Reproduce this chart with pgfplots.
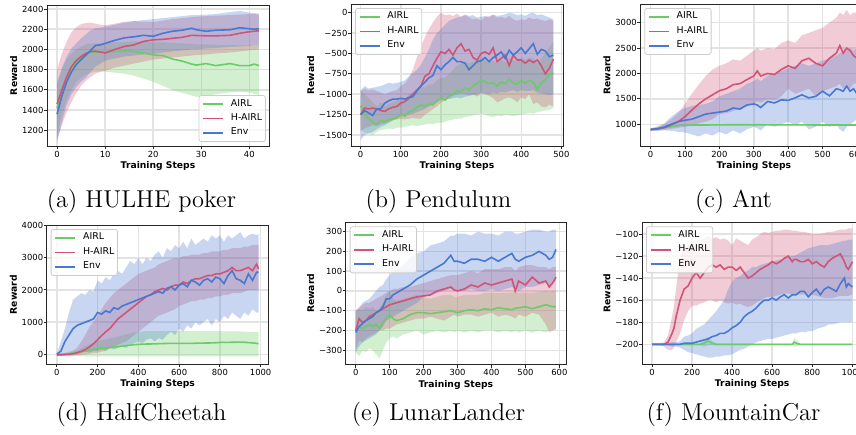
\documentclass[border=0pt]{standalone}
\usepackage{fontspec}
\usepackage{pgfplots}
\usepackage{pgfplotstable}
\pgfplotsset{compat=1.18}
\usepgfplotslibrary{fillbetween}
\newfontfamily\dejavu{DejaVu Sans}
\definecolor{cG}{RGB}{106,204,100}
\definecolor{cR}{RGB}{208,84,118}
\definecolor{cB}{RGB}{72,120,208}
\newcommand\tickfont{\dejavu\fontsize{4.2}{5}\selectfont}
\newcommand\labfont{\dejavu\bfseries\fontsize{4.6}{5.5}\selectfont}
\newcommand\legfont{\dejavu\fontsize{4.7}{5.6}\selectfont}
\newcommand\capfont{\fontsize{12.2}{14}\selectfont}

% x | AIRL mean lo hi | H-AIRL mean lo hi | Env mean lo hi
\pgfplotstableread{
x gm gl gh rm rl rh bm bl bh
0 1420 1150 1690 1460 1110 1800 1360 1080 1650
1 1580 1350 1800 1600 1250 1960 1540 1280 1820
2 1710 1500 1900 1730 1380 2080 1680 1450 1930
3 1810 1600 1960 1830 1480 2170 1780 1560 2010
4 1880 1680 2000 1890 1570 2220 1850 1630 2060
5 1920 1720 2030 1930 1640 2250 1900 1680 2110
6 1955 1750 2050 1960 1690 2262 1945 1720 2150
7 1970 1770 2060 1980 1730 2265 1990 1780 2190
8 1975 1780 2060 1982 1760 2255 2040 1830 2210
9 1975 1780 2060 1975 1780 2245 2045 1860 2215
10 1978 1780 2065 1965 1790 2240 2060 1890 2225
12 1980 1770 2070 2000 1820 2255 2090 1910 2245
14 1985 1760 2075 2030 1840 2275 2115 1930 2265
16 1980 1740 2080 2045 1860 2280 2125 1940 2280
18 1965 1710 2075 2080 1880 2275 2140 1950 2290
20 1945 1680 2070 2095 1900 2270 2130 1955 2300
22 1940 1640 2070 2100 1910 2285 2160 1970 2310
24 1905 1600 2065 2110 1920 2300 2180 1980 2320
26 1885 1570 2060 2120 1930 2310 2190 1990 2330
28 1855 1545 2055 2140 1940 2320 2210 2000 2340
29 1845 1530 2050 2138 1945 2325 2195 2000 2340
31 1860 1545 2050 2135 1950 2330 2180 2010 2345
33 1840 1555 2045 2135 1960 2335 2190 2015 2350
36 1860 1575 2045 2140 1970 2340 2195 2025 2370
38 1840 1580 2040 2160 1980 2345 2215 2030 2380
40 1840 1575 2040 2175 1990 2350 2205 2035 2365
41 1855 1560 2040 2180 1995 2350 2200 2040 2360
42 1840 1550 2040 2185 2000 2345 2205 2040 2355
}\tabA

\pgfplotstableread{
x gm gl gh rm rl rh bm bl bh
0 -1140 -1430 -950 -1250 -1450 -960 -1250 -1560 -950
10 -1250 -1470 -1000 -1170 -1420 -930 -1200 -1500 -900
20 -1300 -1480 -1050 -1180 -1400 -950 -1230 -1480 -930
30 -1340 -1500 -1100 -1170 -1380 -940 -1260 -1460 -920
40 -1370 -1460 -1150 -1180 -1390 -960 -1180 -1430 -910
50 -1320 -1440 -1100 -1200 -1370 -980 -1180 -1400 -900
60 -1340 -1430 -1150 -1210 -1360 -1000 -1110 -1380 -880
70 -1310 -1420 -1120 -1180 -1340 -980 -1080 -1350 -860
80 -1300 -1430 -1100 -1160 -1320 -960 -1060 -1320 -870
90 -1290 -1410 -1080 -1150 -1310 -950 -1060 -1300 -860
100 -1250 -1410 -1050 -1110 -1300 -900 -1050 -1260 -850
110 -1270 -1400 -1080 -1090 -1310 -870 -1060 -1270 -830
120 -1220 -1390 -1000 -1050 -1300 -800 -1040 -1250 -780
130 -1200 -1380 -980 -1000 -1290 -700 -1030 -1240 -740
140 -1160 -1390 -950 -950 -1300 -550 -960 -1220 -700
150 -1130 -1380 -900 -900 -1300 -420 -900 -1200 -640
160 -1150 -1370 -920 -780 -1250 -300 -850 -1180 -550
170 -1120 -1360 -880 -750 -1220 -200 -800 -1150 -450
180 -1130 -1370 -880 -650 -1180 -120 -770 -1120 -330
190 -1080 -1350 -830 -560 -1150 -50 -650 -1100 -250
200 -1050 -1350 -800 -480 -1100 0 -700 -1060 -200
210 -1070 -1340 -800 -500 -1080 -30 -640 -1050 -150
220 -1020 -1320 -750 -450 -1050 -20 -600 -1060 -100
230 -1000 -1310 -700 -520 -1020 -40 -550 -1050 -80
240 -960 -1300 -650 -430 -1000 -10 -600 -1040 -60
250 -970 -1300 -620 -380 -990 -50 -600 -1050 -50
260 -920 -1280 -600 -470 -1000 -30 -620 -1030 -20
270 -950 -1270 -620 -450 -1010 -60 -700 -1020 -40
280 -900 -1260 -600 -550 -1000 -80 -650 -1010 -30
290 -870 -1250 -580 -580 -1030 -70 -600 -1000 -60
300 -820 -1240 -560 -500 -990 -100 -590 -980 -50
310 -850 -1250 -580 -480 -1000 -50 -550 -990 -40
320 -870 -1270 -600 -510 -1020 -40 -600 -1000 -60
330 -860 -1280 -590 -430 -1050 -30 -550 -980 -20
340 -900 -1260 -620 -600 -1100 -60 -520 -990 -40
350 -850 -1270 -580 -560 -1080 -50 -480 -970 -30
360 -870 -1250 -600 -520 -1050 -70 -560 -980 -20
370 -820 -1260 -560 -650 -1040 -40 -460 -960 0
380 -860 -1270 -580 -520 -1060 -80 -520 -950 -10
390 -880 -1260 -600 -580 -1100 -100 -480 -970 -30
400 -830 -1250 -550 -580 -1040 -80 -430 -950 -20
410 -860 -1240 -580 -620 -1060 -90 -500 -960 -40
420 -830 -1230 -550 -580 -1000 -60 -440 -960 -10
430 -850 -1240 -560 -610 -1120 -80 -380 -950 0
440 -940 -1220 -620 -580 -1100 -70 -510 -980 -30
450 -860 -1210 -560 -650 -1150 -90 -450 -990 -20
460 -820 -1200 -500 -750 -1160 -100 -470 -1000 -40
470 -760 -1190 -420 -680 -1130 -80 -540 -1010 -60
480 -740 -1170 -350 -570 -1150 -100 -520 -1000 -80
}\tabB

\pgfplotstableread{
x gm gl gh rm rl rh bm bl bh
0 900 890 910 890 870 910 900 880 920
20 910 900 920 905 880 940 915 870 960
40 930 918 942 935 890 1000 945 880 1020
60 955 942 968 990 910 1100 1000 870 1150
80 975 962 988 1050 930 1220 1050 850 1250
100 982 970 994 1150 950 1400 1080 840 1320
120 985 972 998 1280 980 1600 1100 800 1360
140 986 973 999 1400 1020 1780 1150 760 1380
160 986 973 999 1500 1050 1950 1200 820 1400
180 987 974 1000 1580 1100 2080 1220 780 1450
200 988 975 1001 1660 1200 2150 1240 850 1550
220 990 977 1003 1700 1220 2200 1260 800 1600
240 990 977 1003 1780 1260 2280 1320 880 1650
260 990 977 1003 1800 1300 2250 1300 820 1700
280 990 977 1003 1880 1350 2350 1380 900 1800
300 989 976 1002 1950 1400 2450 1400 950 1850
310 990 977 1003 2050 1450 2500 1380 920 1900
320 990 977 1003 1950 1420 2450 1330 880 1850
340 989 976 1002 2000 1500 2500 1450 1000 1950
360 989 976 1002 1980 1480 2480 1420 950 2000
380 988 975 1001 2080 1550 2600 1480 1000 2050
400 988 975 1001 2150 1700 2650 1470 1050 2100
420 987 974 1000 2100 1600 2600 1520 980 2150
440 987 974 1000 2250 1650 2750 1580 1050 2200
460 987 974 1000 2300 1700 2800 1520 900 2150
480 986 973 999 2200 1550 2850 1550 950 2200
500 986 973 999 2150 1650 2900 1650 1050 2250
520 986 973 999 2300 1700 3000 1560 950 2300
540 986 973 999 2400 1750 3100 1700 1000 2350
550 986 973 999 2550 1800 3200 1680 900 2400
560 986 973 999 2400 1700 3150 1650 850 2450
570 986 973 999 2500 1750 3250 1750 950 2450
580 986 973 999 2450 1700 3150 1650 1000 2500
590 986 973 999 2350 1800 3200 1700 1050 2450
600 986 973 999 2300 1800 3200 1600 1100 2500
}\tabC

\pgfplotstableread{
x gm gl gh rm rl rh bm bl bh
0 0 -50 0 -20 -50 10 0 -50 0
20 5 -50 10 -15 -50 20 100 -40 400
40 10 -50 30 -5 -50 40 400 -30 800
60 20 -50 50 0 -45 80 600 -20 1300
80 35 -55 80 20 -40 120 800 0 1700
100 60 -55 110 50 -30 200 900 0 1800
120 80 -55 180 90 -20 400 950 50 1900
140 100 -60 250 150 0 600 1000 100 1850
160 130 -60 300 230 20 850 1050 50 2000
180 150 -60 350 330 40 1000 1100 100 1950
200 170 -60 400 450 50 1200 1300 100 2300
220 190 -60 430 580 80 1400 1250 150 2200
240 200 -60 470 700 120 1600 1350 100 2400
260 210 -60 500 800 180 1750 1300 200 2300
280 230 -60 520 950 230 1900 1450 150 2500
300 240 -60 550 1100 300 2000 1400 200 2600
320 255 -60 580 1200 350 2100 1500 250 2500
340 270 -60 620 1300 400 2200 1550 200 2700
360 285 -60 650 1400 500 2300 1600 300 2900
380 300 -60 680 1500 600 2400 1650 350 2800
400 310 -60 700 1600 700 2500 1700 400 3000
420 315 -60 710 1700 800 2550 1750 350 2800
440 320 -60 720 1800 900 2600 1800 450 3000
460 322 -60 720 1850 1000 2650 1850 500 2900
480 325 -60 720 1950 1100 2700 1900 400 3100
500 330 -60 720 2000 1200 2800 1950 500 3200
520 335 -60 720 2050 1250 2850 1900 450 3000
540 338 -60 720 2000 1300 2900 2050 600 3300
560 340 -60 720 2100 1350 2950 2100 700 3200
580 342 -60 720 2150 1400 3000 2000 600 3400
600 340 -60 720 2150 1500 3000 2150 800 3300
620 340 -60 720 2250 1550 3050 2200 700 3500
640 338 -60 720 2200 1600 3050 2100 900 3300
660 340 -60 720 2300 1650 3100 2300 800 3600
680 345 -60 720 2350 1650 3100 2250 1000 3400
700 350 -60 720 2350 1700 3100 2150 900 3500
720 350 -60 720 2400 1700 3150 2300 1000 3600
740 352 -60 720 2450 1750 3150 2350 1100 3500
760 355 -60 720 2450 1750 3200 2250 900 3700
780 360 -60 720 2500 1800 3200 2400 1100 3600
800 370 -60 720 2500 1800 3200 2350 1000 3700
820 370 -60 715 2550 1850 3250 2200 1200 3500
840 372 -60 715 2600 1850 3250 2450 1100 3700
860 375 -60 710 2700 1900 3300 2600 1300 3600
880 378 -60 710 2600 1900 3300 2350 1200 3700
900 380 -60 710 2600 1900 3300 2300 1100 3800
920 375 -60 705 2650 1950 3350 2200 1300 3600
940 365 -60 700 2700 2000 3350 2500 1200 3700
960 355 -60 700 2600 2000 3400 2300 1400 3750
980 340 -60 700 2800 2000 3400 2550 1300 3700
990 330 -60 700 2650 2000 3400 2550 1300 3750
}\tabD

\pgfplotstableread{
x gm gl gh rm rl rh bm bl bh
0 -200 -310 -100 -200 -300 -100 -210 -310 -100
10 -180 -330 -90 -140 -250 -80 -180 -280 -90
20 -190 -300 -100 -160 -260 -70 -165 -260 -60
30 -180 -310 -80 -150 -240 -60 -150 -250 -50
40 -170 -290 -90 -130 -230 -60 -140 -240 -40
50 -180 -300 -80 -120 -220 -50 -130 -230 -20
60 -170 -320 -100 -110 -210 -40 -110 -220 0
70 -190 -340 -90 -100 -200 -30 -100 -200 20
80 -160 -300 -60 -90 -200 -20 -80 -180 30
90 -140 -260 -20 -80 -190 -10 -40 -150 60
100 -120 -240 0 -70 -190 0 -40 -140 80
110 -140 -230 -40 -65 -180 10 -20 -130 100
120 -150 -240 -50 -60 -170 10 -10 -120 110
140 -140 -220 -40 -50 -160 20 10 -100 130
160 -120 -210 -30 -40 -150 20 30 -80 170
180 -110 -200 -20 -30 -140 30 60 -60 190
200 -110 -220 -30 -25 -140 40 80 -30 200
220 -115 -210 -40 -20 -130 50 100 -20 230
240 -110 -200 -30 0 -140 60 120 -10 240
260 -105 -210 -20 10 -150 70 140 0 250
280 -100 -200 -20 20 -130 80 180 10 280
290 -105 -210 -30 5 -120 80 150 0 280
300 -110 -200 -30 0 -130 80 150 0 290
320 -100 -210 -20 10 -120 90 140 0 290
340 -95 -200 -20 30 -120 100 160 10 280
360 -100 -210 -20 20 -130 90 160 0 300
380 -90 -200 -10 40 -120 110 150 0 290
400 -95 -200 -10 30 -110 110 170 10 290
420 -85 -210 -10 40 -130 110 150 0 280
440 -90 -200 -10 50 -120 120 170 10 300
460 -95 -210 -10 60 -130 120 190 20 300
470 -88 -200 -5 0 -140 100 160 10 290
480 -85 -210 -10 50 -120 120 150 0 290
500 -80 -200 -10 30 -130 130 170 20 300
520 -90 -210 -10 70 -110 130 180 20 310
540 -80 -200 -5 40 -120 120 200 30 310
560 -70 -210 0 50 -170 120 180 40 300
570 -75 -200 -5 20 -210 110 160 30 300
580 -80 -200 0 40 -200 120 170 40 310
590 -80 -200 0 70 -190 120 210 50 310
}\tabE

\pgfplotstableread{
x gm gl gh rm rl rh bm bl bh
0 -200 -201 -199 -200 -201 -199 -200 -201 -199
20 -200 -201 -199 -200 -201 -199 -200 -201 -199
40 -200 -201 -199 -200 -201 -199 -200 -201 -199
60 -200 -201 -199 -200 -202 -198 -200 -201 -199
80 -200 -201 -199 -198 -205 -192 -200 -201 -199
100 -200 -201 -199 -190 -205 -175 -200 -202 -198
110 -200 -201 -199 -185 -203 -165 -200 -202 -198
120 -200 -201 -199 -175 -198 -150 -200 -202 -198
140 -200 -201 -199 -160 -190 -120 -200 -203 -197
160 -200 -201 -199 -150 -178 -112 -199 -205 -193
180 -200 -201 -199 -147 -170 -110 -199 -207 -192
200 -200 -201 -199 -140 -165 -108 -199 -208 -190
220 -200 -201 -199 -135 -165 -105 -198 -209 -186
240 -200 -201 -199 -140 -163 -106 -197 -210 -184
260 -199 -202 -196 -135 -162 -104 -196 -211 -182
280 -197 -201 -193 -130 -160 -102 -195 -212 -178
300 -199 -201 -197 -128 -160 -104 -193 -212 -174
320 -200 -201 -199 -130 -162 -103 -192 -211 -170
340 -200 -201 -199 -128 -160 -105 -190 -211 -165
360 -200 -201 -199 -132 -162 -104 -190 -210 -160
380 -200 -201 -199 -130 -163 -106 -188 -210 -150
400 -200 -201 -199 -130 -162 -110 -185 -209 -143
420 -200 -201 -199 -133 -164 -104 -183 -207 -140
440 -200 -201 -199 -130 -163 -106 -180 -205 -138
460 -200 -201 -199 -135 -165 -108 -175 -204 -135
480 -200 -201 -199 -140 -166 -110 -172 -202 -133
500 -200 -201 -199 -138 -165 -105 -170 -200 -130
520 -200 -201 -199 -135 -162 -103 -167 -198 -130
540 -200 -201 -199 -132 -160 -100 -163 -197 -128
560 -200 -201 -199 -130 -158 -98 -160 -196 -127
580 -200 -201 -199 -128 -157 -99 -160 -195 -126
600 -200 -201 -199 -125 -157 -98 -158 -195 -125
620 -200 -201 -199 -127 -156 -97 -160 -194 -124
640 -200 -201 -199 -125 -155 -97 -157 -193 -123
660 -200 -201 -199 -122 -154 -96 -155 -192 -122
680 -200 -201 -199 -120 -154 -96 -158 -191 -121
700 -200 -201 -199 -125 -155 -97 -155 -190 -120
710 -198 -202 -194 -123 -155 -97 -155 -190 -120
720 -199 -202 -196 -123 -155 -97 -155 -190 -119
740 -200 -201 -199 -125 -155 -98 -152 -189 -117
760 -200 -201 -199 -125 -155 -98 -152 -189 -115
780 -200 -201 -199 -123 -155 -99 -157 -188 -113
800 -200 -201 -199 -127 -155 -100 -153 -188 -112
820 -200 -201 -199 -125 -156 -100 -150 -186 -111
840 -200 -201 -199 -128 -157 -100 -155 -185 -110
860 -200 -201 -199 -130 -158 -99 -150 -184 -110
880 -200 -201 -199 -125 -158 -98 -148 -182 -110
900 -200 -201 -199 -122 -158 -98 -150 -182 -109
920 -200 -201 -199 -120 -157 -97 -152 -181 -108
940 -200 -201 -199 -118 -156 -96 -145 -180 -107
960 -200 -201 -199 -125 -156 -96 -140 -180 -106
970 -200 -201 -199 -130 -156 -96 -148 -180 -106
980 -200 -201 -199 -132 -156 -95 -145 -180 -105
1000 -200 -201 -199 -125 -155 -95 -148 -180 -105
}\tabF

\pgfplotsset{
  panel/.style={
    scale only axis, anchor=north west,
    axis line style={black!85, line width=0.5pt},
    grid=major, major grid style={black!11, line width=0.75pt},
    tick align=outside, tick pos=left, major tick length=1.6pt,
    tick style={black!85, line width=0.5pt},
    ticklabel style={font=\tickfont},
    xticklabel style={inner sep=0.7pt},
    yticklabel style={inner sep=0pt},
    label style={font=\labfont},
    xlabel style={inner sep=1.3pt},
    ylabel style={inner sep=2.2pt},
    xlabel={Training Steps}, ylabel={Reward},
    legend cell align=left,
    legend image code/.code={\draw[##1, line width=0.9pt] (0pt,0pt) -- (10pt,0pt);},
    legend style={font=\legfont, draw=black!20, line width=0.4pt,
      fill=white, fill opacity=0.8, text opacity=1, rounded corners=1.2pt,
      inner xsep=1.6pt, inner ysep=0.7pt, row sep=0pt,
      nodes={inner xsep=0pt, inner ysep=1.15pt},
      /tikz/every odd column/.append style={column sep=3.5pt}},
  },
  upleft/.style={legend style={at={(axis description cs:0,1)}, anchor=north west, xshift=2pt, yshift=-2pt}},
}

\newcommand\bandsof[1]{%
  \addplot[draw=none, forget plot, name path=gh] table[x=x, y=gh]{#1};
  \addplot[draw=none, forget plot, name path=gl] table[x=x, y=gl]{#1};
  \addplot[fill=cG, fill opacity=0.3, draw=none, forget plot] fill between[of=gh and gl];
  \addplot[draw=none, forget plot, name path=rh] table[x=x, y=rh]{#1};
  \addplot[draw=none, forget plot, name path=rl] table[x=x, y=rl]{#1};
  \addplot[fill=cR, fill opacity=0.3, draw=none, forget plot] fill between[of=rh and rl];
  \addplot[draw=none, forget plot, name path=bh] table[x=x, y=bh]{#1};
  \addplot[draw=none, forget plot, name path=bl] table[x=x, y=bl]{#1};
  \addplot[fill=cB, fill opacity=0.3, draw=none, forget plot] fill between[of=bh and bl];
}
\newcommand\linesof[1]{%
  \addplot[cG, line width=0.8pt] table[x=x, y=gm]{#1}; \addlegendentry{AIRL}
  \addplot[cR, line width=0.8pt] table[x=x, y=rm]{#1}; \addlegendentry{H-AIRL}
  \addplot[cB, line width=0.8pt] table[x=x, y=bm]{#1}; \addlegendentry{Env}
}

\begin{document}
\begin{tikzpicture}

% (a) HULHE poker
\begin{axis}[panel, at={(23.5pt,-2.5pt)}, width=111pt, height=70.5pt,
  xmin=-2.1, xmax=44.1, ymin=1044, ymax=2440,
  xtick={0,10,20,30,40}, xticklabels={0,10,20,30,40},
  ytick={1200,1400,1600,1800,2000,2200,2400},
  yticklabels={1200,1400,1600,1800,2000,2200,2400},
  legend style={at={(axis description cs:1,0)}, anchor=south east, xshift=-1.6pt, yshift=2pt}]
\bandsof{\tabA}
\linesof{\tabA}
\end{axis}

% (b) Pendulum
\begin{axis}[panel, upleft, at={(175.5pt,-2pt)}, width=106pt, height=71pt,
  xmin=-24, xmax=504, ymin=-1635, ymax=107,
  xtick={0,100,200,300,400,500}, xticklabels={0,100,200,300,400,500},
  ytick={-1500,-1250,-1000,-750,-500,-250,0},
  yticklabels={−1500,−1250,−1000,−750,−500,−250,0}]
\bandsof{\tabB}
\linesof{\tabB}
\end{axis}

% (c) Ant
\begin{axis}[panel, upleft, at={(320.15pt,-2pt)}, width=113.5pt, height=71pt,
  xmin=-30, xmax=630, ymin=572, ymax=3368,
  xtick={0,100,200,300,400,500,600}, xticklabels={0,100,200,300,400,500,600},
  ytick={1000,1500,2000,2500,3000}, yticklabels={1000,1500,2000,2500,3000}]
\bandsof{\tabC}
\linesof{\tabC}
\end{axis}

% (d) HalfCheetah
\begin{axis}[panel, upleft, at={(23.35pt,-112.5pt)}, width=111pt, height=69.5pt,
  xmin=-49.5, xmax=1039.5, ymin=-301, ymax=4020,
  xtick={0,200,400,600,800,1000}, xticklabels={0,200,400,600,800,1000},
  ytick={0,1000,2000,3000,4000}, yticklabels={0,1000,2000,3000,4000}]
\bandsof{\tabD}
\linesof{\tabD}
\end{axis}

% (e) LunarLander
\begin{axis}[panel, upleft, at={(172.85pt,-111.15pt)}, width=110.15pt, height=71pt,
  xmin=-29.5, xmax=619.5, ymin=-371, ymax=347,
  xtick={0,100,200,300,400,500,600}, xticklabels={0,100,200,300,400,500,600},
  ytick={-300,-200,-100,0,100,200,300},
  yticklabels={−300,−200,−100,0,100,200,300}]
\bandsof{\tabE}
\linesof{\tabE}
\end{axis}

% (f) MountainCar
\begin{axis}[panel, upleft, at={(321pt,-111.15pt)}, width=110.2pt, height=70.85pt,
  xmin=-50, xmax=1050, ymin=-217.8, ymax=-89.4,
  xtick={0,200,400,600,800,1000}, xticklabels={0,200,400,600,800,1000},
  ytick={-200,-180,-160,-140,-120,-100},
  yticklabels={−200,−180,−160,−140,−120,−100}]
\bandsof{\tabF}
\linesof{\tabF}
\end{axis}

\node[font=\capfont, anchor=base] at (70.75pt,-103.5pt) {(a) HULHE poker};
\node[font=\capfont, anchor=base] at (219.25pt,-103.5pt) {(b) Pendulum};
\node[font=\capfont, anchor=base] at (366.75pt,-103.5pt) {(c) Ant};
\node[font=\capfont, anchor=base] at (70.75pt,-210pt) {(d) HalfCheetah};
\node[font=\capfont, anchor=base] at (219.25pt,-210pt) {(e) LunarLander};
\node[font=\capfont, anchor=base] at (366.75pt,-210pt) {(f) MountainCar};

\pgfresetboundingbox
\useasboundingbox (0,0) rectangle (428pt,-217pt);
\end{tikzpicture}
\end{document}
